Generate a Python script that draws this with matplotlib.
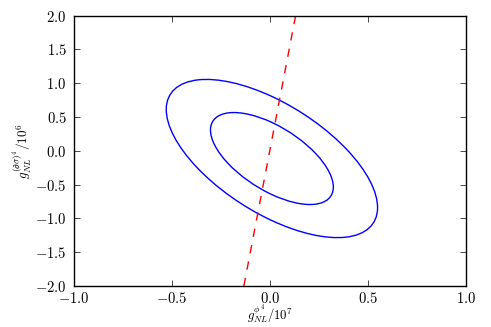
import numpy as np
import matplotlib
matplotlib.use("Agg")
import matplotlib.pyplot as plt
from matplotlib.patches import Ellipse

# Data: Gaussian contour ellipses
center = (0.011, -0.115)
sigma_x = 0.313
sigma_y = 0.68
rho = -0.62
levels = [1.0, 1.72]

# Dashed line
line_x = [-0.132, 0.132]
line_y = [-2.0, 2.0]

xticks = [-1.0, -0.5, 0.0, 0.5, 1.0]
yticks = [-2.0, -1.5, -1.0, -0.5, 0.0, 0.5, 1.0, 1.5, 2.0]

plt.rcParams['mathtext.fontset'] = 'cm'
plt.rcParams['font.family'] = ['serif', 'DejaVu Sans']
plt.rcParams['font.serif'] = ['cmr10']
plt.rcParams['axes.formatter.use_mathtext'] = True

fig = plt.figure(figsize=(4.91, 3.27), dpi=100)
ax = fig.add_axes([73.5/491, 1 - 286/327, (466-73.5)/491, (286-15.5)/327])

cov = np.array([[sigma_x**2, rho*sigma_x*sigma_y], [rho*sigma_x*sigma_y, sigma_y**2]])
vals, vecs = np.linalg.eigh(cov)
angle = np.degrees(np.arctan2(vecs[1, 1], vecs[0, 1]))
for k in levels:
    e = Ellipse(center, width=2*k*np.sqrt(vals[1]), height=2*k*np.sqrt(vals[0]),
                angle=angle, fill=False, edgecolor='b', lw=1.0)
    ax.add_patch(e)

ax.plot(line_x, line_y, color='r', ls='--', dashes=(6, 6), lw=1.0)

ax.set_xlim(-1, 1)
ax.set_ylim(-2, 2)
ax.set_xticks(xticks)
ax.set_yticks(yticks)
ax.tick_params(direction='in', top=True, right=True, length=4, width=0.5)
ax.tick_params(axis='x', pad=3.5)
ax.tick_params(axis='y', pad=5)
for s in ax.spines.values():
    s.set_linewidth(1.0)
ax.set_xticklabels([f"${t:.1f}$" for t in xticks], fontsize=10.5)
ax.set_yticklabels([f"${t:.1f}$" for t in yticks], fontsize=10.5)

fig.text(0.5*(73.5+466)/491, 1.5/327, r'$g_{NL}^{\phi^4}/10^7$', fontsize=9.2,
         ha='center', va='bottom')
fig.text(22/491, 1 - 151/327, r'$g_{NL}^{(\partial\sigma)^4}/10^6$', fontsize=9.5,
         ha='center', va='center', rotation=90)

fig.savefig('out.png', dpi=100)
